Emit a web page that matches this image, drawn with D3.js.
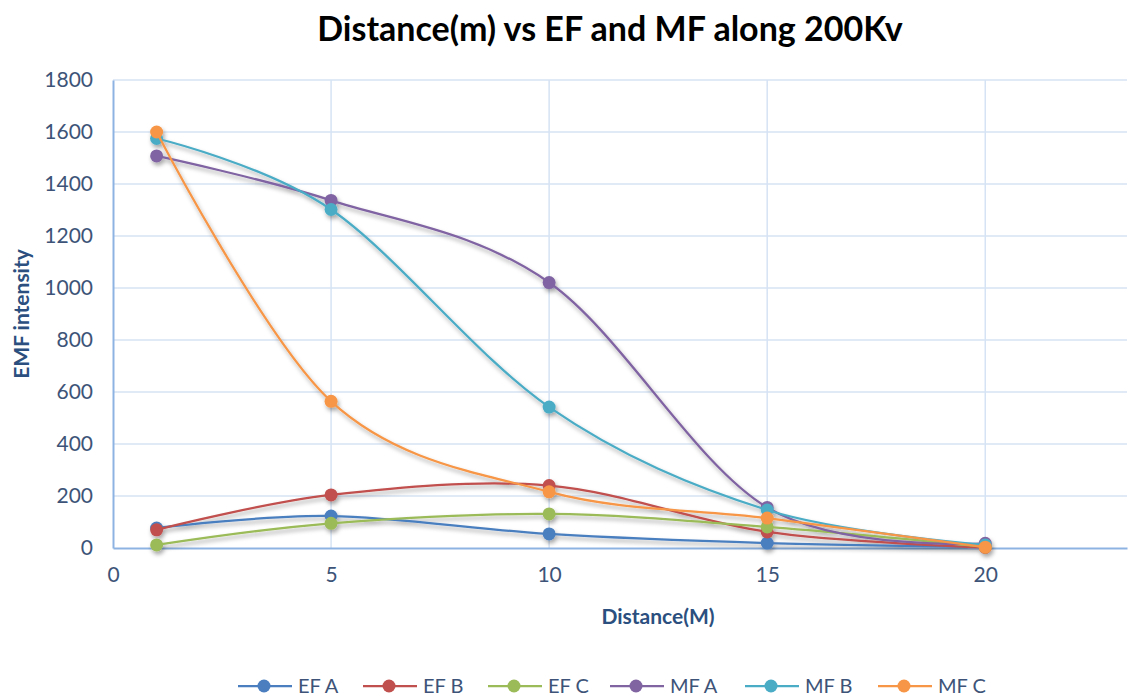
<!DOCTYPE html>
<html lang="en">
<head>
    <meta charset="UTF-8">
    <script src="https://d3js.org/d3.v7.min.js"></script>
    <style>
        body {
            margin: 0;
            background: #fff;
            font-family: Lato, "Open Sans", sans-serif;
        }
        .tick text {
            font-size: 21px;
            fill: #3d5478;
        }
        .axis-title {
            font-size: 21px;
            font-weight: bold;
            fill: #2b4f7e;
        }
        .legend text {
            font-size: 20px;
            fill: #3d5478;
        }
    </style>
</head>
<body>
    <div id="chart"></div>

    <script>
        // distances along the line (m)
        const distances = [1, 5, 10, 15, 20];

        const seriesNames = ["EF A", "EF B", "EF C", "MF A", "MF B", "MF C"];
        const seriesColors = ["#4a7ebf", "#c0504d", "#9bbb59", "#8064a2", "#4bacc6", "#f79646"];

        const efA = [77, 123, 54, 19, 4];
        const efB = [70, 204, 240, 62, 2];
        const efC = [12, 95, 131, 81, 4];
        const mfA = [1508, 1337, 1021, 156, 18];
        const mfB = [1575, 1302, 542, 146, 12];
        const mfC = [1600, 564, 216, 115, 3];

        const yTicks = [0, 200, 400, 600, 800, 1000, 1200, 1400, 1600, 1800];
        const xTicks = [0, 5, 10, 15, 20];

        const allValues = [efA, efB, efC, mfA, mfB, mfC];

        const W = 1129, H = 697;
        const margin = {top: 80, right: 2, bottom: 149, left: 113},
            width = W - margin.left - margin.right,
            height = H - margin.top - margin.bottom;

        const root = d3.select("#chart")
            .append("svg")
            .attr("width", W)
            .attr("height", H);

        const defs = root.append("defs");
        const shadow = defs.append("filter")
            .attr("id", "shadow")
            .attr("x", "-20%").attr("y", "-20%")
            .attr("width", "140%").attr("height", "140%");
        shadow.append("feDropShadow")
            .attr("dx", 1.5).attr("dy", 3)
            .attr("stdDeviation", 2)
            .attr("flood-color", "#000")
            .attr("flood-opacity", 0.35);

        // title
        root.append("text")
            .attr("x", 610)
            .attr("y", 41)
            .attr("text-anchor", "middle")
            .style("font-size", "34px")
            .style("font-weight", "bold")
            .style("fill", "#000")
            .text("Distance(m) vs EF and MF along 200Kv");

        const svg = root.append("g")
            .attr("transform", `translate(${margin.left},${margin.top})`);

        const x = d3.scaleLinear()
            .domain([0, 23.25])
            .range([0, width]);

        const y = d3.scaleLinear()
            .domain([0, 1800])
            .range([height, 0]);

        // gridlines
        svg.append("g")
            .selectAll("line")
            .data(yTicks.slice(1))
            .enter()
            .append("line")
            .attr("x1", 0).attr("x2", width)
            .attr("y1", d => y(d)).attr("y2", d => y(d))
            .attr("stroke", "#d6e3f4")
            .attr("stroke-width", 1.5);

        svg.append("g")
            .selectAll("line")
            .data(xTicks.slice(1))
            .enter()
            .append("line")
            .attr("x1", d => x(d)).attr("x2", d => x(d))
            .attr("y1", 0).attr("y2", height)
            .attr("stroke", "#d6e3f4")
            .attr("stroke-width", 1.5);

        // axes
        const yAxis = svg.append("g")
            .call(d3.axisLeft(y).tickValues(yTicks).tickFormat(d3.format("d")).tickSize(0).tickPadding(20));
        yAxis.select(".domain").attr("stroke", "#8db3e2").attr("stroke-width", 2);

        const xAxis = svg.append("g")
            .attr("transform", `translate(0,${height})`)
            .call(d3.axisBottom(x).tickValues(xTicks).tickSize(0).tickPadding(19));
        xAxis.select(".domain").attr("stroke", "#8db3e2").attr("stroke-width", 2);

        root.selectAll(".tick text").style("font-family", "Lato, sans-serif");

        // axis titles
        root.append("text")
            .attr("class", "axis-title")
            .attr("transform", "translate(29,314) rotate(-90)")
            .attr("text-anchor", "middle")
            .text("EMF intensity");

        root.append("text")
            .attr("class", "axis-title")
            .attr("x", 658)
            .attr("y", 624)
            .attr("text-anchor", "middle")
            .text("Distance(M)");

        // series
        const line = d3.line()
            .x(d => x(d[0]))
            .y(d => y(d[1]))
            .curve(d3.curveCardinal.tension(0));

        const seriesG = svg.append("g").attr("filter", "url(#shadow)");

        allValues.forEach((vals, i) => {
            const pts = distances.map((dist, j) => [dist, vals[j]]);
            const g = seriesG.append("g");
            g.append("path")
                .datum(pts)
                .attr("d", line)
                .attr("fill", "none")
                .attr("stroke", seriesColors[i])
                .attr("stroke-width", 2.25);
            g.selectAll("circle")
                .data(pts)
                .enter()
                .append("circle")
                .attr("cx", d => x(d[0]))
                .attr("cy", d => y(d[1]))
                .attr("r", 6.5)
                .attr("fill", seriesColors[i]);
        });

        // legend
        const legendX = [238, 363, 488, 610, 745, 878];
        const legend = root.append("g").attr("class", "legend");
        seriesNames.forEach((name, i) => {
            const g = legend.append("g").attr("transform", `translate(${legendX[i]},686)`);
            g.append("line")
                .attr("x1", 0).attr("x2", 54)
                .attr("stroke", seriesColors[i])
                .attr("stroke-width", 2.25);
            g.append("circle")
                .attr("cx", 26).attr("cy", 0)
                .attr("r", 6.5)
                .attr("fill", seriesColors[i]);
            g.append("text")
                .attr("x", 60)
                .attr("y", 0)
                .attr("dy", "0.36em")
                .text(name);
        });
    </script>
</body>
</html>
